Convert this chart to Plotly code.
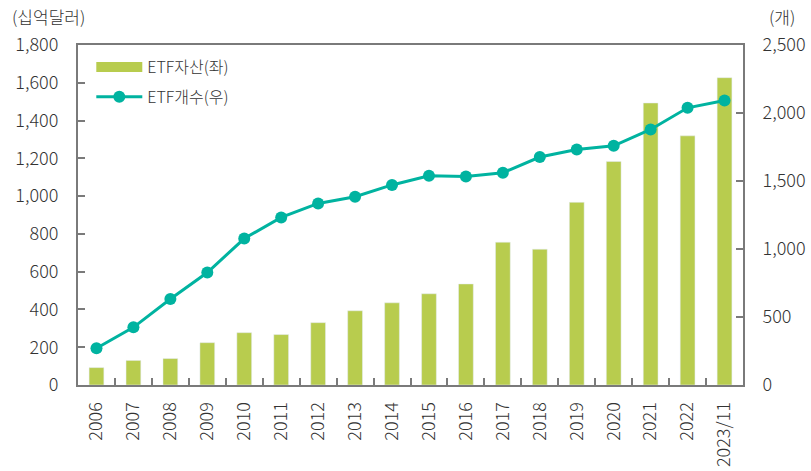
import plotly.graph_objects as go

years = ["2006", "2007", "2008", "2009", "2010", "2011", "2012", "2013", "2014",
         "2015", "2016", "2017", "2018", "2019", "2020", "2021", "2022", "2023/11"]
etf_assets = [92, 130, 140, 224, 277, 267, 330, 393, 435,
              483, 535, 756, 719, 967, 1183, 1493, 1319, 1627]
etf_count = [270, 424, 632, 827, 1077, 1232, 1335, 1384, 1471,
             1538, 1533, 1561, 1676, 1731, 1759, 1879, 2038, 2092]

left_ticks = [0, 200, 400, 600, 800, 1000, 1200, 1400, 1600, 1800]
right_ticks = [0, 500, 1000, 1500, 2000, 2500]

GREEN = "#B8CC4E"
TEAL = "#00B3A0"
AXIS = "#7a7a7a"
TXT = "#333333"
FONT = "Noto Sans CJK KR"

tickfont = dict(family=FONT, size=18, color=TXT, weight=300)

fig = go.Figure()
fig.add_trace(go.Bar(x=years, y=etf_assets, marker_color=GREEN, name="ETF자산(좌)",
                     showlegend=False, legendgroup="a", width=0.4))
# legend proxy for bar series (wide swatch)
fig.add_trace(go.Scatter(x=[years[0]], y=[None], mode="lines", name="ETF자산(좌)",
                         line=dict(color=GREEN, width=12), legendgroup="a"))
fig.add_trace(go.Scatter(x=years, y=etf_count, yaxis="y2", mode="lines+markers",
                         name="ETF개수(우)", line=dict(color=TEAL, width=3),
                         marker=dict(color=TEAL, size=12)))

fig.update_layout(
    width=811, height=471,
    margin=dict(l=78, r=68, t=45, b=86),
    paper_bgcolor="white", plot_bgcolor="white",
    font=dict(family=FONT, size=17, color=TXT),
    showlegend=True,
    legend=dict(x=0.02, y=0.985, xanchor="left", yanchor="top",
                bgcolor="rgba(0,0,0,0)", font=dict(size=16, color=TXT, weight=300),
                itemwidth=46, tracegroupgap=6),
    xaxis=dict(type="category", range=[-0.5, len(years) - 0.5],
               showline=True, linecolor=AXIS, linewidth=2,
               mirror=True, ticks="inside", ticklen=7, tickcolor=AXIS, tickwidth=2,
               tickson="boundaries", tickangle=-90, ticklabelstandoff=8,
               tickfont=tickfont, showgrid=False, automargin=False),
    yaxis=dict(range=[0, 1800], tickvals=left_ticks,
               ticktext=[f"{v:,}" for v in left_ticks],
               showline=True, linecolor=AXIS, linewidth=2,
               ticks="inside", ticklen=7, tickcolor=AXIS, tickwidth=2,
               ticklabelstandoff=14, showgrid=False, zeroline=False,
               tickfont=tickfont, automargin=False),
    yaxis2=dict(range=[0, 2500], tickvals=right_ticks,
                ticktext=[f"{v:,}" for v in right_ticks],
                overlaying="y", side="right",
                showline=True, linecolor=AXIS, linewidth=2,
                ticks="inside", ticklen=7, tickcolor=AXIS, tickwidth=2,
                ticklabelstandoff=14, showgrid=False, zeroline=False,
                tickfont=tickfont, automargin=False),
    annotations=[
        dict(text="(십억달러)", xref="paper", yref="paper", x=-0.102, y=1.0,
             yshift=29, xanchor="left", yanchor="middle", showarrow=False,
             font=dict(size=17, color=TXT, weight=300)),
        dict(text="(개)", xref="paper", yref="paper", x=1.036, y=1.0,
             yshift=29, xanchor="left", yanchor="middle", showarrow=False,
             font=dict(size=17, color=TXT, weight=300)),
    ],
)

fig.write_html("out.html", config={"displayModeBar": False},
               post_script="document.body.style.margin='0';document.body.style.overflow='hidden';")
